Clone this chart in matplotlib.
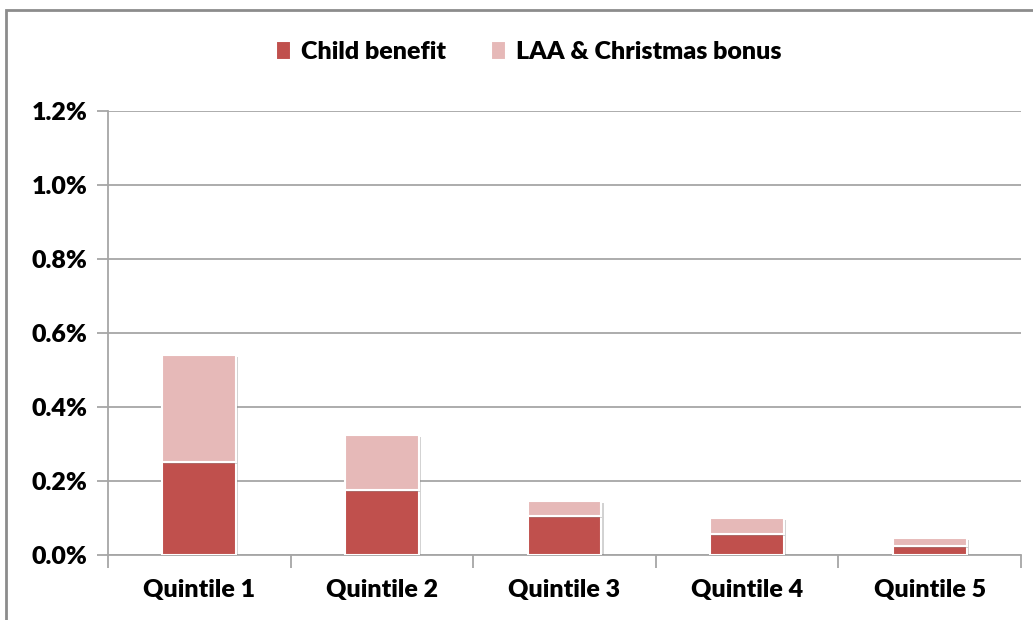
import numpy as np
import matplotlib
matplotlib.use("Agg")
import matplotlib.pyplot as plt
import matplotlib.patheffects as pe
from matplotlib.patches import Rectangle
from matplotlib.ticker import FuncFormatter, FixedLocator

# share of income by quintile (percent)
quintiles = ['Quintile 1', 'Quintile 2', 'Quintile 3', 'Quintile 4', 'Quintile 5']
child_benefit = [0.252, 0.175, 0.105, 0.058, 0.024]
laa_christmas = [0.288, 0.150, 0.041, 0.043, 0.023]

dark = '#C0504D'
light = '#E6B9B8'
grid_col = '#A6A6A6'

plt.rcParams['font.family'] = ['Lato', 'DejaVu Sans']
plt.rcParams['font.weight'] = 'heavy'

fig = plt.figure(figsize=(10.33, 6.2), dpi=100)
ax = fig.add_axes([108/1033, 1 - 555/620, (1021-108)/1033, (555-111)/620])

x = np.arange(len(quintiles))
w = 0.405
shadow = [pe.SimplePatchShadow(offset=(1.5, -1.5), shadow_rgbFace='#808080', alpha=0.35), pe.Normal()]

b1 = ax.bar(x, child_benefit, w, color=dark, edgecolor='white', linewidth=1.5,
            label='Child benefit', zorder=3)
b2 = ax.bar(x, laa_christmas, w, bottom=child_benefit, color=light, edgecolor='white',
            linewidth=1.5, label='LAA & Christmas bonus', zorder=3)
for p in list(b1) + list(b2):
    p.set_path_effects(shadow)

ax.set_xlim(-0.5, len(quintiles) - 0.5)
ax.set_ylim(0, 1.2)
ax.set_yticks(np.arange(0, 1.21, 0.2))
ax.yaxis.set_major_formatter(FuncFormatter(lambda v, p: f'{v:.1f}%'))
ax.yaxis.grid(True, color=grid_col, linewidth=1.3, zorder=0)

# category labels centred, tick marks between categories
ax.set_xticks(x)
ax.set_xticklabels(quintiles)
ax.tick_params(axis='x', which='major', length=0, pad=17, labelsize=18)
ax.xaxis.set_minor_locator(FixedLocator(np.arange(-0.5, len(quintiles), 1.0)))
ax.tick_params(axis='x', which='minor', length=9, color=grid_col, width=1.3)
ax.tick_params(axis='y', length=8, color=grid_col, width=1.3, pad=7, labelsize=18)

for s in ['top', 'right']:
    ax.spines[s].set_visible(False)
for s in ['left', 'bottom']:
    ax.spines[s].set_color(grid_col)
    ax.spines[s].set_linewidth(1.3)

leg = fig.legend(handles=[b1, b2], loc='center', bbox_to_anchor=(529/1033, 1 - 52/620),
                 ncol=2, frameon=False, fontsize=18, handlelength=0.6, handleheight=0.8,
                 handletextpad=0.4, columnspacing=1.8)
for h in leg.legend_handles:
    h.set_path_effects([pe.Normal()])

# outer chart border
fig.add_artist(Rectangle((6/1033, -0.1), 1.2, 1 - 10/620 + 0.1, transform=fig.transFigure,
                         fill=False, edgecolor='#8C8C8C', linewidth=2))

fig.savefig('out.png', dpi=100)
